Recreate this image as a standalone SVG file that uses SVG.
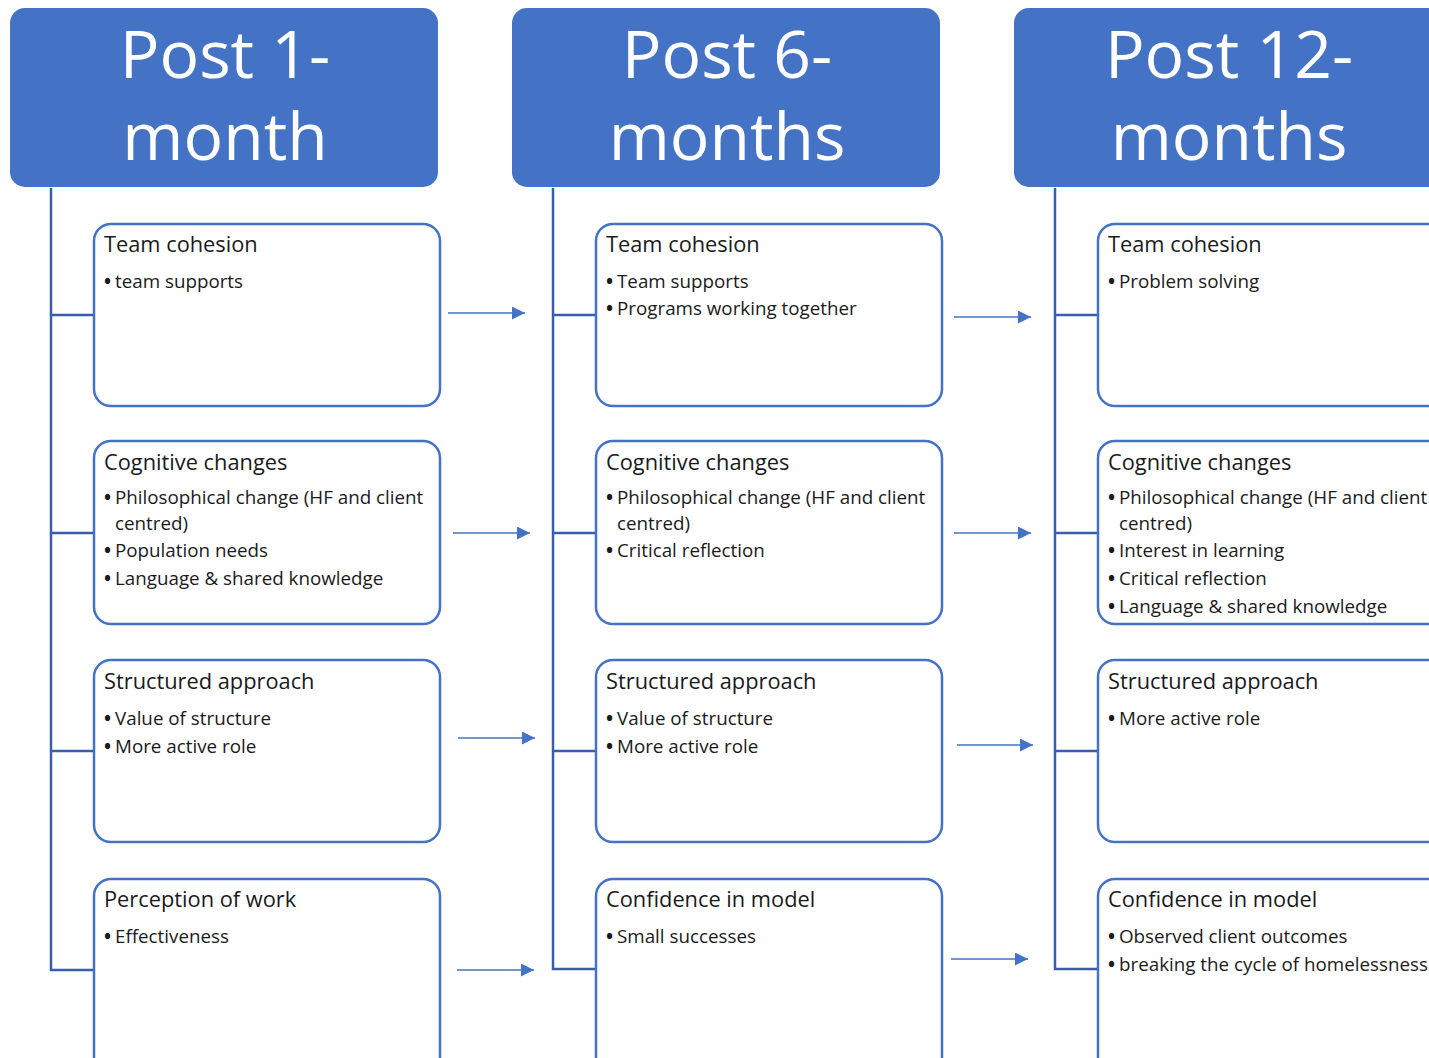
<svg xmlns="http://www.w3.org/2000/svg" width="1429" height="1058" viewBox="0 0 1429 1058">
  <style>
    .hdr { fill: #4472C4; }
    .hdr-text { fill: #ffffff; font-family: "Open Sans", "Noto Sans", sans-serif; font-size: 66px; text-anchor: middle; }
    .box { fill: #ffffff; stroke: #4472C4; stroke-width: 2.5; }
    .trunk { fill: none; stroke: #3A5DAE; stroke-width: 2.5; }
    .arrow { stroke: #4472C4; stroke-width: 1.6; marker-end: url(#tip); }
    .title { fill: #1a1a1a; font-family: "Open Sans", "Noto Sans", sans-serif; font-size: 21.8px; }
    .item { fill: #1a1a1a; font-family: "Open Sans", "Noto Sans", sans-serif; font-size: 18.8px; }
    .dot { font-weight: 700; }
  </style>
  <defs>
    <marker id="tip" viewBox="0 0 10 10" refX="10" refY="5" markerUnits="userSpaceOnUse" markerWidth="15" markerHeight="13" orient="auto">
      <path d="M0,0 L10,5 L0,10 Z" fill="#4472C4"/>
    </marker>
  </defs>
  <rect width="1429" height="1058" fill="#ffffff"/>

  <!-- column headers -->
  <g id="hdr-1"><rect class="hdr" x="10" y="8" width="428" height="179" rx="15"/><text class="hdr-text" x="225" y="78">Post 1-</text><text class="hdr-text" x="225" y="160">month</text></g>
  <g id="hdr-6"><rect class="hdr" x="512" y="8" width="428" height="179" rx="15"/><text class="hdr-text" x="727" y="78">Post 6-</text><text class="hdr-text" x="727" y="160">months</text></g>
  <g id="hdr-12"><rect class="hdr" x="1014" y="8" width="428" height="179" rx="15"/><text class="hdr-text" x="1229" y="78">Post 12-</text><text class="hdr-text" x="1229" y="160">months</text></g>

  <!-- tree lines and arrows between columns -->
  <g id="connectors">
    <path class="trunk" d="M51,188 V970 H94 M51,315 H94 M51,533 H94 M51,751 H94"/>
    <path class="trunk" d="M553,188 V969 H596 M553,315 H596 M553,533 H596 M553,751 H596"/>
    <path class="trunk" d="M1055,188 V969 H1098 M1055,315 H1098 M1055,533 H1098 M1055,751 H1098"/>
    <line class="arrow" x1="448" y1="313" x2="525" y2="313"/>
    <line class="arrow" x1="453" y1="533" x2="530" y2="533"/>
    <line class="arrow" x1="458" y1="738" x2="535" y2="738"/>
    <line class="arrow" x1="457" y1="970" x2="534" y2="970"/>
    <line class="arrow" x1="954" y1="317" x2="1031" y2="317"/>
    <line class="arrow" x1="954" y1="533" x2="1031" y2="533"/>
    <line class="arrow" x1="957" y1="745" x2="1033" y2="745"/>
    <line class="arrow" x1="951" y1="959" x2="1028" y2="959"/>
  </g>

  <!-- column 1 -->
  <g id="c1-team"><rect class="box" x="94" y="224" width="346" height="182" rx="17"/>
    <text class="title" x="104" y="252">Team cohesion</text>
    <text class="item" x="104" y="288"><tspan class="dot">•</tspan><tspan x="115">team supports</tspan></text></g>
  <g id="c1-cog"><rect class="box" x="94" y="441" width="346" height="183" rx="17"/>
    <text class="title" x="104" y="470">Cognitive changes</text>
    <text class="item" x="104" y="504"><tspan class="dot">•</tspan><tspan x="115">Philosophical change (HF and client</tspan><tspan x="115" y="530">centred)</tspan></text>
    <text class="item" x="104" y="557"><tspan class="dot">•</tspan><tspan x="115">Population needs</tspan></text>
    <text class="item" x="104" y="585"><tspan class="dot">•</tspan><tspan x="115">Language &amp; shared knowledge</tspan></text></g>
  <g id="c1-struct"><rect class="box" x="94" y="660" width="346" height="182" rx="17"/>
    <text class="title" x="104" y="689">Structured approach</text>
    <text class="item" x="104" y="725"><tspan class="dot">•</tspan><tspan x="115">Value of structure</tspan></text>
    <text class="item" x="104" y="753"><tspan class="dot">•</tspan><tspan x="115">More active role</tspan></text></g>
  <g id="c1-work"><rect class="box" x="94" y="879" width="346" height="200" rx="17"/>
    <text class="title" x="104" y="907">Perception of work</text>
    <text class="item" x="104" y="943"><tspan class="dot">•</tspan><tspan x="115">Effectiveness</tspan></text></g>

  <!-- column 2 -->
  <g id="c2-team"><rect class="box" x="596" y="224" width="346" height="182" rx="17"/>
    <text class="title" x="606" y="252">Team cohesion</text>
    <text class="item" x="606" y="288"><tspan class="dot">•</tspan><tspan x="617">Team supports</tspan></text>
    <text class="item" x="606" y="315"><tspan class="dot">•</tspan><tspan x="617">Programs working together</tspan></text></g>
  <g id="c2-cog"><rect class="box" x="596" y="441" width="346" height="183" rx="17"/>
    <text class="title" x="606" y="470">Cognitive changes</text>
    <text class="item" x="606" y="504"><tspan class="dot">•</tspan><tspan x="617">Philosophical change (HF and client</tspan><tspan x="617" y="530">centred)</tspan></text>
    <text class="item" x="606" y="557"><tspan class="dot">•</tspan><tspan x="617">Critical reflection</tspan></text></g>
  <g id="c2-struct"><rect class="box" x="596" y="660" width="346" height="182" rx="17"/>
    <text class="title" x="606" y="689">Structured approach</text>
    <text class="item" x="606" y="725"><tspan class="dot">•</tspan><tspan x="617">Value of structure</tspan></text>
    <text class="item" x="606" y="753"><tspan class="dot">•</tspan><tspan x="617">More active role</tspan></text></g>
  <g id="c2-conf"><rect class="box" x="596" y="879" width="346" height="200" rx="17"/>
    <text class="title" x="606" y="907">Confidence in model</text>
    <text class="item" x="606" y="943"><tspan class="dot">•</tspan><tspan x="617">Small successes</tspan></text></g>

  <!-- column 3 -->
  <g id="c3-team"><rect class="box" x="1098" y="224" width="346" height="182" rx="17"/>
    <text class="title" x="1108" y="252">Team cohesion</text>
    <text class="item" x="1108" y="288"><tspan class="dot">•</tspan><tspan x="1119">Problem solving</tspan></text></g>
  <g id="c3-cog"><rect class="box" x="1098" y="441" width="346" height="183" rx="17"/>
    <text class="title" x="1108" y="470">Cognitive changes</text>
    <text class="item" x="1108" y="504"><tspan class="dot">•</tspan><tspan x="1119">Philosophical change (HF and client</tspan><tspan x="1119" y="530">centred)</tspan></text>
    <text class="item" x="1108" y="557"><tspan class="dot">•</tspan><tspan x="1119">Interest in learning</tspan></text>
    <text class="item" x="1108" y="585"><tspan class="dot">•</tspan><tspan x="1119">Critical reflection</tspan></text>
    <text class="item" x="1108" y="613"><tspan class="dot">•</tspan><tspan x="1119">Language &amp; shared knowledge</tspan></text></g>
  <g id="c3-struct"><rect class="box" x="1098" y="660" width="346" height="182" rx="17"/>
    <text class="title" x="1108" y="689">Structured approach</text>
    <text class="item" x="1108" y="725"><tspan class="dot">•</tspan><tspan x="1119">More active role</tspan></text></g>
  <g id="c3-conf"><rect class="box" x="1098" y="879" width="346" height="200" rx="17"/>
    <text class="title" x="1108" y="907">Confidence in model</text>
    <text class="item" x="1108" y="943"><tspan class="dot">•</tspan><tspan x="1119">Observed client outcomes</tspan></text>
    <text class="item" x="1108" y="971"><tspan class="dot">•</tspan><tspan x="1119">breaking the cycle of homelessness</tspan></text></g>
</svg>
